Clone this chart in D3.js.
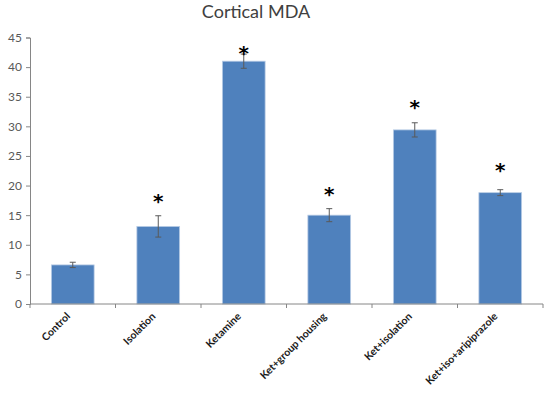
<!DOCTYPE html>
<html><head><meta charset="utf-8">
<script src="https://cdn.jsdelivr.net/npm/d3@7"></script>
<style>body{margin:0;background:#fff}</style>
</head><body>
<svg id="c" width="550" height="394"></svg>
<script>
const categories = ["Control","Isolation","Ketamine","Ket+group housing","Ket+isolation","Ket+iso+aripiprazole"];
const values = [6.6, 13.1, 41.0, 15.0, 29.4, 18.8];
const errors = [0.45, 1.8, 1.2, 1.1, 1.2, 0.5];
const asteriskAt = [null, 18.0, 43.0, 19.2, 33.9, 23.2];
const yTicks = [0,5,10,15,20,25,30,35,40,45];
const title = "Cortical MDA";

const svg = d3.select("#c");
const m = {l:30, r:7, t:37.5, b:90};
const W = 550, H = 394;
const x = d3.scaleBand().domain(categories).range([m.l, W-m.r]).paddingInner(0.5).paddingOuter(0.25);
const y = d3.scaleLinear().domain([0,45]).range([304, 37.5]);
const font = "Lato, 'Open Sans', sans-serif";

svg.append("text").attr("x", 256).attr("y", 18).attr("text-anchor","middle")
  .attr("font-family", font).attr("font-size", 18).attr("fill","#404040").text(title);

// bars
svg.selectAll("rect.bar").data(categories).enter().append("rect")
  .attr("x", d=>x(d)).attr("width", x.bandwidth())
  .attr("y", (d,i)=>y(values[i])).attr("height",(d,i)=>y(0)-y(values[i]))
  .attr("fill","#4F81BD").attr("stroke","#B9CDE5").attr("stroke-width",0.8);

// error bars
const eg = svg.append("g").attr("stroke","#5a5a5a").attr("stroke-width",1);
categories.forEach((c,i)=>{
  const cx = x(c)+x.bandwidth()/2;
  eg.append("line").attr("x1",cx).attr("x2",cx).attr("y1",y(values[i]+errors[i])).attr("y2",y(values[i]-errors[i]));
  eg.append("line").attr("x1",cx-3).attr("x2",cx+3).attr("y1",y(values[i]+errors[i])).attr("y2",y(values[i]+errors[i]));
  eg.append("line").attr("x1",cx-3).attr("x2",cx+3).attr("y1",y(values[i]-errors[i])).attr("y2",y(values[i]-errors[i]));
  if (asteriskAt[i] !== null) {
    svg.append("text").attr("x",cx).attr("y",y(asteriskAt[i])+10.8)
      .attr("text-anchor","middle").attr("font-family","'DejaVu Sans', sans-serif")
      .attr("font-weight","bold").attr("font-size",20).attr("fill","#000").text("*");
  }
});

// y axis
const ya = svg.append("g").attr("transform",`translate(${m.l},0)`)
  .call(d3.axisLeft(y).tickValues(yTicks).tickSize(4).tickPadding(4));
ya.select(".domain").attr("stroke","#868686");
ya.selectAll(".tick line").attr("stroke","#868686");
ya.selectAll("text").attr("font-family",font).attr("font-size",12).attr("fill","#595959");

// x axis
const xa = svg.append("g").attr("transform",`translate(0,${y(0)})`)
  .call(d3.axisBottom(x).tickSize(0).tickPadding(0));
xa.select(".domain").attr("stroke","#868686").attr("d",`M${m.l},0H${W-m.r}`);
const bounds = d3.range(categories.length+1).map(i=>m.l + i*((W-m.r-m.l)/categories.length));
xa.selectAll("line.b").data(bounds).enter().append("line").attr("class","b")
  .attr("x1",d=>d).attr("x2",d=>d).attr("y1",0).attr("y2",4).attr("stroke","#868686");
xa.selectAll(".tick text")
  .attr("font-family",font).attr("font-size",10.5).attr("font-weight","bold").attr("fill","#1a1a1a")
  .attr("text-anchor","end").attr("dy",0).attr("transform","translate(-2,13) rotate(-45)");
</script>
</body></html>
